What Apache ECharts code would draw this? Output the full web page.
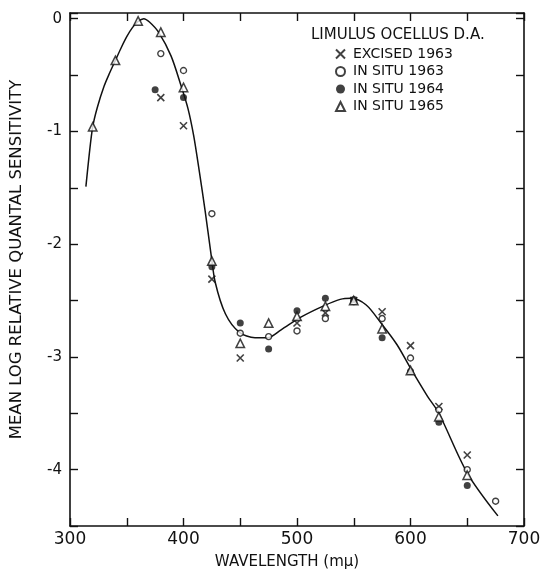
<!DOCTYPE html>
<html>
<head>
<meta charset="utf-8">
<script src="https://cdn.jsdelivr.net/npm/echarts@6/dist/echarts.min.js"></script>
<style>
  html, body { margin: 0; padding: 0; background: #fff; }
  #chart { width: 545px; height: 575px; }
</style>
</head>
<body>
<div id="chart"></div>
<script>
// Wavelength (mμ) and mean log relative quantal sensitivity for each preparation
const excised1963 = [
  [380, -0.70], [400, -0.95], [425, -2.31], [450, -3.01], [500, -2.70],
  [525, -2.61], [550, -2.50], [575, -2.60], [600, -2.90], [625, -3.44], [650, -3.87]
];
const inSitu1963 = [
  [380, -0.31], [400, -0.46], [425, -1.73], [450, -2.79], [475, -2.82], [500, -2.77],
  [525, -2.66], [550, -2.51], [575, -2.66], [600, -3.01], [625, -3.47], [650, -4.00], [675, -4.28]
];
const inSitu1964 = [
  [375, -0.63], [400, -0.70], [425, -2.20], [450, -2.70], [475, -2.93], [500, -2.59],
  [525, -2.48], [550, -2.49], [575, -2.83], [600, -3.13], [625, -3.58], [650, -4.14]
];
const inSitu1965 = [
  [320, -0.96], [340, -0.37], [360, -0.02], [380, -0.12], [400, -0.61], [425, -2.15],
  [450, -2.88], [475, -2.70], [500, -2.64], [525, -2.55], [550, -2.50], [575, -2.75],
  [600, -3.12], [625, -3.53], [650, -4.05]
];
// Smooth curve drawn through the pooled points
const fittedCurve = [
  [314, -1.49], [317, -1.20], [320, -0.96], [324, -0.79], [330, -0.60], [335, -0.48],
  [340, -0.37], [345, -0.26], [350, -0.16], [355, -0.08], [360, -0.025], [365, 0.00],
  [370, -0.03], [378, -0.12], [389, -0.33], [398, -0.60], [404, -0.80], [409, -1.04],
  [414, -1.36], [419, -1.70], [424, -2.07], [428, -2.34], [437, -2.62], [449, -2.78],
  [463, -2.83], [474, -2.83], [486, -2.76], [503, -2.65], [523, -2.55], [538, -2.49],
  [548, -2.48], [561, -2.54], [574, -2.70], [588, -2.89], [600, -3.10], [615, -3.35],
  [625, -3.50], [650, -4.03], [677, -4.41]
];
const xTicks = [300, 400, 500, 600, 700];
const yTicks = [0, -1, -2, -3, -4];

const FONT = 'DejaVu Sans';
const INK = '#111';
const xIcon = 'path://M0,0L10,10M10,0L0,10';

const frameAxis = {
  lineStyle: { color: INK, width: 1.6 }
};

const chart = echarts.init(document.getElementById('chart'), null, { renderer: 'canvas' });

chart.setOption({
  animation: false,
  backgroundColor: '#fff',
  title: {
    text: 'LIMULUS OCELLUS D.A.',
    left: 306,
    top: 23,
    textStyle: { fontFamily: FONT, fontSize: 15, fontWeight: 'normal', color: INK }
  },
  legend: {
    orient: 'vertical',
    left: 330,
    top: 42,
    itemGap: 3.5,
    itemWidth: 9,
    itemHeight: 9,
    textStyle: { fontFamily: FONT, fontSize: 14, color: INK, padding: [0, 0, 0, 3] },
    data: ['EXCISED 1963', 'IN SITU 1963', 'IN SITU 1964', 'IN SITU 1965']
  },
  grid: { left: 65, right: 21, top: 13, bottom: 47 },
  xAxis: [
    {
      type: 'value', min: 300, max: 700, interval: 50,
      name: 'WAVELENGTH (mμ)', nameLocation: 'middle', nameGap: 29,
      nameTextStyle: { fontFamily: FONT, fontSize: 15, color: INK, padding: [0, 20, 0, 0] },
      axisLine: { show: true, onZero: false, ...frameAxis },
      axisTick: { show: true, inside: true, length: 8, lineStyle: { color: INK, width: 1.4 } },
      axisLabel: {
        fontFamily: FONT, fontSize: 17, color: INK, margin: 5,
        formatter: v => (xTicks.includes(v) ? String(v) : '')
      },
      splitLine: { show: false }
    },
    {
      type: 'value', min: 300, max: 700, interval: 50, position: 'top',
      axisLine: { show: true, onZero: false, ...frameAxis },
      axisTick: { show: true, inside: true, length: 8, lineStyle: { color: INK, width: 1.4 } },
      axisLabel: { show: false },
      splitLine: { show: false }
    }
  ],
  yAxis: [
    {
      type: 'value', min: -4.5, max: 0.05, interval: 0.5,
      name: 'MEAN LOG RELATIVE QUANTAL SENSITIVITY', nameLocation: 'middle', nameGap: 45,
      nameRotate: 90,
      nameTextStyle: { fontFamily: FONT, fontSize: 16.5, color: INK, padding: [0, 0, 0, 20] },
      axisLine: { show: true, onZero: false, ...frameAxis },
      axisTick: { show: true, inside: true, length: 8, lineStyle: { color: INK, width: 1.4 } },
      axisLabel: {
        fontFamily: FONT, fontSize: 15, color: INK, margin: 8,
        formatter: v => (yTicks.includes(v) ? String(v) : '')
      },
      splitLine: { show: false }
    },
    {
      type: 'value', min: -4.5, max: 0.05, interval: 0.5, position: 'right',
      axisLine: { show: true, onZero: false, ...frameAxis },
      axisTick: { show: true, inside: true, length: 8, lineStyle: { color: INK, width: 1.4 } },
      axisLabel: { show: false },
      splitLine: { show: false }
    }
  ],
  series: [
    {
      type: 'line', name: 'curve', data: fittedCurve, smooth: 0.3, showSymbol: false,
      lineStyle: { color: INK, width: 1.5 }, silent: true, z: 1
    },
    {
      type: 'scatter', name: 'EXCISED 1963', data: excised1963,
      symbol: xIcon, symbolSize: 7,
      itemStyle: { color: 'transparent', borderColor: INK, borderWidth: 1.6 }, z: 3
    },
    {
      type: 'scatter', name: 'IN SITU 1963', data: inSitu1963,
      symbol: 'circle', symbolSize: 6,
      itemStyle: { color: '#fff', borderColor: INK, borderWidth: 1.4 }, z: 3
    },
    {
      type: 'scatter', name: 'IN SITU 1964', data: inSitu1964,
      symbol: 'circle', symbolSize: 7,
      itemStyle: { color: INK }, z: 3
    },
    {
      type: 'scatter', name: 'IN SITU 1965', data: inSitu1965,
      symbol: 'triangle', symbolSize: 8.5,
      itemStyle: { color: '#fff', borderColor: INK, borderWidth: 1.5 }, z: 4
    }
  ]
});
</script>
</body>
</html>
